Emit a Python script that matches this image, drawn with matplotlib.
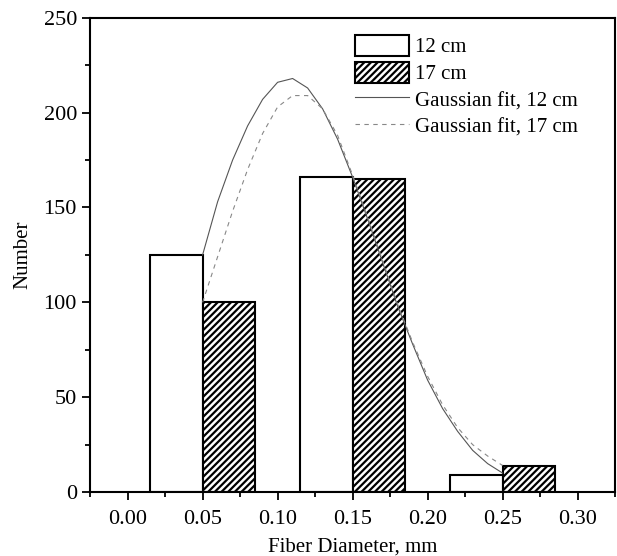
#fiber diameter histogram with gaussian fits

import numpy as np
import matplotlib
matplotlib.use('Agg')
import matplotlib.pyplot as plt
from matplotlib.ticker import MultipleLocator

plt.rcParams['font.family'] = ['Liberation Serif', 'DejaVu Serif']
plt.rcParams['hatch.linewidth'] = 1.6

# bar data (left edges of each bin and counts)
bin_left_12 = [0.015, 0.115, 0.215]
count_12 = [125, 166, 9]
bin_left_17 = [0.05, 0.15, 0.25]
count_17 = [100, 165, 14]
bar_width = 0.035

# gaussian fit curves
fit_x = [0.05, 0.06, 0.07, 0.08, 0.09, 0.10, 0.11, 0.12, 0.13, 0.14, 0.15,
         0.16, 0.17, 0.18, 0.19, 0.20, 0.21, 0.22, 0.23, 0.24, 0.25]
fit_12 = [125, 153, 175, 193, 207, 216, 218, 213, 202, 186, 166,
          144, 121, 98, 78, 59, 44, 32, 22, 15, 10]
fit_17 = [100, 124, 148, 170, 189, 203, 209, 209, 202, 188, 167,
          145, 122, 99, 79, 61, 46, 34, 25, 19, 14]

fig = plt.figure(figsize=(6.17, 5.56), dpi=100)
ax = fig.add_axes([0.146, 0.115, 0.851, 0.853])

b12 = ax.bar(bin_left_12, count_12, width=bar_width, align='edge',
             facecolor='white', edgecolor='black', linewidth=1.5)
b17 = ax.bar(bin_left_17, count_17, width=bar_width, align='edge',
             facecolor='white', edgecolor='black', linewidth=1.5, hatch='/////')

l12, = ax.plot(fit_x, fit_12, color='#555555', linewidth=0.8)
l17, = ax.plot(fit_x, fit_17, color='#888888', linewidth=0.8, linestyle=(0, (4, 4)))

ax.set_xlim(-0.025, 0.325)
ax.set_ylim(0, 250)
ax.xaxis.set_major_locator(MultipleLocator(0.05))
ax.xaxis.set_minor_locator(MultipleLocator(0.025))
ax.yaxis.set_major_locator(MultipleLocator(50))
ax.yaxis.set_minor_locator(MultipleLocator(25))
ax.xaxis.set_major_formatter(plt.FormatStrFormatter('%.2f'))

ax.tick_params(which='both', direction='out', top=False, right=False,
               labelsize=16, width=1.3)
ax.tick_params(which='major', length=6)
ax.tick_params(which='minor', length=3.5)
ax.tick_params(axis='x', pad=7)
for s in ax.spines.values():
    s.set_linewidth(1.5)

ax.set_xlabel('Fiber Diameter, mm', fontsize=15, labelpad=6)
ax.set_ylabel('Number', fontsize=15, labelpad=8)

ax.legend([b12, b17, l12, l17],
          ['12 cm', '17 cm', 'Gaussian fit, 12 cm', 'Gaussian fit, 17 cm'],
          loc='upper left', bbox_to_anchor=(0.468, 1.004), frameon=False,
          fontsize=15, handlelength=2.6, handleheight=1.2, labelspacing=0.2,
          handletextpad=0.3)

fig.savefig('out.png', dpi=100)
